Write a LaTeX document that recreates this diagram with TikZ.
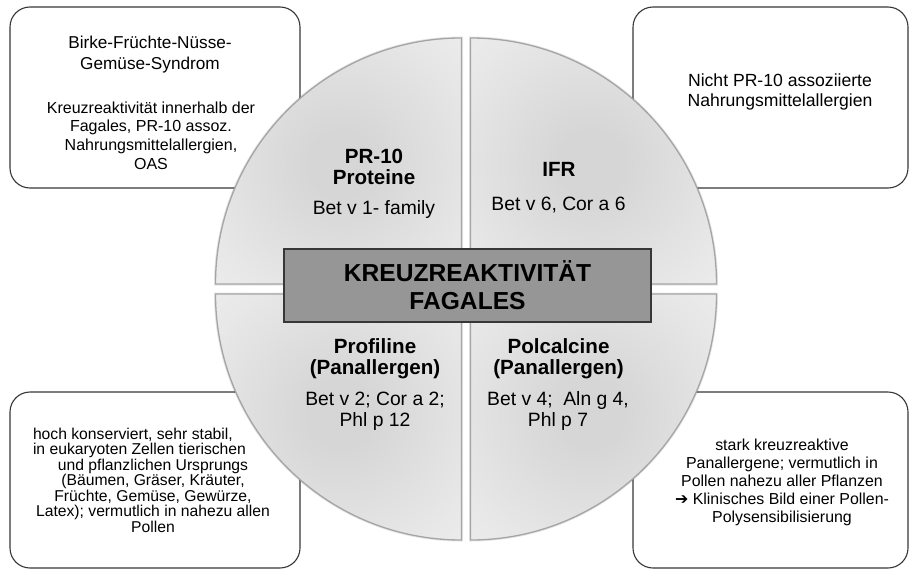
\documentclass[tikz,border=0pt]{standalone}
\usepackage{fontspec}
\setmainfont{Liberation Sans}
\newfontfamily\arrowfont{DejaVu Sans}

\definecolor{boxline}{RGB}{55,55,55}
\definecolor{quadedge}{RGB}{165,165,165}
\definecolor{quadin}{RGB}{214,214,214}
\definecolor{quadmid}{RGB}{232,232,232}
\definecolor{quadout}{RGB}{245,245,245}
\definecolor{titlefill}{RGB}{150,150,150}
\definecolor{titleline}{RGB}{55,55,55}

% radial glow used inside each circle segment
\pgfdeclareradialshading{quadglow}{\pgfpointorigin}{%
  color(0bp)=(quadin); color(4bp)=(quadin); color(18bp)=(quadmid);
  color(32bp)=(quadout); color(50bp)=(quadout)}

\newcommand{\fsz}[2]{\fontsize{#1}{#2}\selectfont}

\begin{document}
\begin{tikzpicture}[x=1pt,y=-1pt,
  infobox/.style={draw=boxline, line width=1.1pt, fill=white,
    rounded corners=20pt, inner sep=0pt},
  quadrant/.style={draw=quadedge, line width=1.3pt, line join=round},
  quadshadow/.style={draw=black, opacity=0.10, line width=3pt},
  txt/.style={inner sep=0pt, align=center, anchor=base},
  head/.style={txt, font=\bfseries\fsz{20.6}{20.7}},
  sub/.style={txt, font=\fsz{19.3}{21}},
  titlebox/.style={draw=titleline, line width=1.1pt, fill=titlefill,
    inner sep=0pt}
]
\useasboundingbox (0,0) rectangle (910,570);

% ---- corner boxes -------------------------------------------------
\node[infobox, minimum width=290pt, minimum height=181pt] (boxTL) at (155,97.5) {};
\node[infobox, minimum width=275pt, minimum height=181pt] (boxTR) at (770.5,97.5) {};
\node[infobox, minimum width=290pt, minimum height=176pt] (boxBL) at (155,480) {};
\node[infobox, minimum width=275pt, minimum height=176pt] (boxBR) at (770.5,480) {};

% ---- circle split into four segments --------------------------------
\pgfmathsetmacro{\qrad}{246}
\coordinate (cTL) at (461.5,284);
\coordinate (cTR) at (470.5,284);
\coordinate (cBL) at (461.5,294);
\coordinate (cBR) at (470.5,294);

% soft shadows
\draw[quadshadow, shift={(1.5,2)}] (cTL) -- ++(180:\qrad) arc[start angle=180,end angle=270,radius=\qrad] -- cycle;
\draw[quadshadow, shift={(1.5,2)}] (cTR) -- ++(0:\qrad) arc[start angle=360,end angle=270,radius=\qrad] -- cycle;
\draw[quadshadow, shift={(1.5,2)}] (cBL) -- ++(180:\qrad) arc[start angle=180,end angle=90,radius=\qrad] -- cycle;
\draw[quadshadow, shift={(1.5,2)}] (cBR) -- ++(0:\qrad) arc[start angle=0,end angle=90,radius=\qrad] -- cycle;

\begin{scope}
  \clip (cTL) -- ++(180:\qrad) arc[start angle=180,end angle=270,radius=\qrad] -- cycle;
  \fill[quadout] (200,20) rectangle (470,290);
  \shade[shading=quadglow] (341,164) circle (205);
\end{scope}
\begin{scope}
  \clip (cTR) -- ++(0:\qrad) arc[start angle=360,end angle=270,radius=\qrad] -- cycle;
  \fill[quadout] (460,20) rectangle (730,290);
  \shade[shading=quadglow] (591,164) circle (205);
\end{scope}
\begin{scope}
  \clip (cBL) -- ++(180:\qrad) arc[start angle=180,end angle=90,radius=\qrad] -- cycle;
  \fill[quadout] (200,290) rectangle (470,560);
  \shade[shading=quadglow] (341,414) circle (205);
\end{scope}
\begin{scope}
  \clip (cBR) -- ++(0:\qrad) arc[start angle=0,end angle=90,radius=\qrad] -- cycle;
  \fill[quadout] (460,290) rectangle (730,560);
  \shade[shading=quadglow] (591,414) circle (205);
\end{scope}

\draw[quadrant] (cTL) -- ++(180:\qrad) arc[start angle=180,end angle=270,radius=\qrad] -- cycle;
\draw[quadrant] (cTR) -- ++(0:\qrad) arc[start angle=360,end angle=270,radius=\qrad] -- cycle;
\draw[quadrant] (cBL) -- ++(180:\qrad) arc[start angle=180,end angle=90,radius=\qrad] -- cycle;
\draw[quadrant] (cBR) -- ++(0:\qrad) arc[start angle=0,end angle=90,radius=\qrad] -- cycle;

% ---- central title -------------------------------------------------
% (multi-line nodes are anchored at the baseline of their last line)
\node[titlebox, minimum width=367pt, minimum height=73pt] (title) at (467.5,285.5) {};
\node[txt, font=\bfseries\fsz{24.6}{28.4}] (titletext) at (467.5,309.4)
  {KREUZREAKTIVITÄT\\FAGALES};

% ---- segment labels ------------------------------------------------
\node[head] (prhead) at (374,184) {PR-10\\Proteine};
\node[sub] (prsub) at (374,214) {Bet v 1- family};

\node[head] (ifrhead) at (559,176) {IFR};
\node[sub] (ifrsub) at (558.5,210.7) {Bet v 6, Cor a 6};

\node[head] (profhead) at (375,374) {Profiline\\(Panallergen)};
\node[sub] (profsub) at (375,426) {Bet v 2; Cor a 2;\\Phl p 12};

\node[head] (polhead) at (558.5,374) {Polcalcine\\(Panallergen)};
\node[sub] (polsub) at (558,426) {Bet v 4;\ \ Aln g 4,\\Phl p 7};

% ---- box texts -----------------------------------------------------
\node[txt, font=\fsz{17.2}{21}] (tlhead) at (150,69.3)
  {Birke-Früchte-Nüsse-\\Gemüse-Syndrom};
\node[txt, font=\fsz{16}{18.7}] (tlbody) at (151,169.1)
  {Kreuzreaktivität innerhalb der\\Fagales, PR-10 assoz.\\Nahrungsmittelallergien,\\OAS};

\node[txt, font=\fsz{17.6}{20}] (trbody) at (780,106)
  {Nicht PR-10 assoziierte\\Nahrungsmittelallergien};

\node[txt, font=\fsz{15.7}{15.5}] (blbody) at (153,532)
  {\makebox[240pt][l]{hoch konserviert, sehr stabil,}\\
   \makebox[240pt][l]{in eukaryoten Zellen tierischen}\\
   und pflanzlichen Ursprungs\\
   (Bäumen, Gräser, Kräuter,\\
   Früchte, Gemüse, Gewürze,\\
   Latex); vermutlich in nahezu allen\\
   Pollen};

\node[txt, font=\fsz{15.9}{18}] (brbody) at (782,522)
  {stark kreuzreaktive\\Panallergene; vermutlich in\\Pollen nahezu aller Pflanzen\\
   {\arrowfont\bfseries ➔} Klinisches Bild einer Pollen-\\Polysensibilisierung};
\end{tikzpicture}
\end{document}
